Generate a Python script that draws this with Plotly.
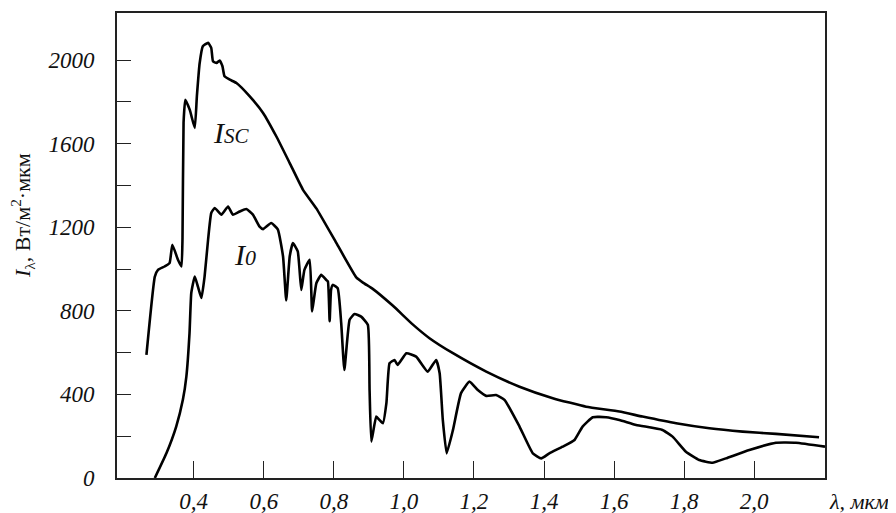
import plotly.graph_objects as go

# Extraterrestrial solar spectrum I_SC
isc_x = [0.265, 0.289, 0.298, 0.317, 0.331, 0.339, 0.355, 0.365, 0.368, 0.371, 0.376, 0.389,
         0.403, 0.409, 0.417, 0.426, 0.441, 0.450, 0.455, 0.465, 0.474, 0.482, 0.488, 0.503,
         0.522, 0.560, 0.598, 0.636, 0.674, 0.712, 0.750, 0.807, 0.864, 0.883, 0.911, 0.968,
         1.025, 1.073, 1.140, 1.235, 1.330, 1.425, 1.520, 1.615, 1.681, 1.777, 1.872, 1.967,
         2.062, 2.185]
isc_y = [589, 964, 996, 1012, 1028, 1116, 1044, 1012, 1150, 1700, 1810, 1760,
         1675, 1826, 1986, 2066, 2082, 2058, 1994, 1986, 1998, 1970, 1922, 1906,
         1890, 1826, 1747, 1634, 1507, 1379, 1290, 1125, 960, 935, 905, 825,
         735, 669, 597, 509, 437, 382, 341, 318, 294, 262, 238, 222,
         211, 195]

# Ground-level spectrum I_0
i0_x = [0.289, 0.322, 0.350, 0.369, 0.379, 0.388, 0.393, 0.403, 0.412, 0.422, 0.431, 0.441,
        0.450, 0.460, 0.479, 0.498, 0.512, 0.531, 0.550, 0.569, 0.588, 0.598, 0.621, 0.640,
        0.655, 0.664, 0.674, 0.683, 0.697, 0.707, 0.716, 0.731, 0.738, 0.750, 0.764, 0.778,
        0.783, 0.788, 0.792, 0.797, 0.811, 0.821, 0.830, 0.845, 0.859, 0.878, 0.897, 0.902,
        0.907, 0.921, 0.930, 0.940, 0.950, 0.959, 0.973, 0.982, 1.007, 1.035, 1.068, 1.092,
        1.102, 1.111, 1.122, 1.140, 1.163, 1.187, 1.211, 1.235, 1.263, 1.287, 1.330, 1.368,
        1.392, 1.415, 1.453, 1.487, 1.510, 1.539, 1.577, 1.615, 1.663, 1.738, 1.767, 1.805,
        1.843, 1.881, 1.919, 1.986, 2.062, 2.119, 2.202]
i0_y = [0, 118, 246, 374, 485, 693, 885, 964, 916, 861, 964, 1140,
        1268, 1292, 1260, 1299, 1260, 1275, 1287, 1260, 1203, 1191, 1220, 1190,
        1060, 850, 1060, 1124, 1084, 900, 996, 1044, 797, 932, 972, 948,
        940, 750, 900, 924, 908, 741, 517, 757, 785, 772, 733, 421,
        174, 294, 278, 262, 358, 549, 565, 541, 597, 581, 509, 565,
        501, 278, 118, 230, 406, 461, 421, 393, 397, 374, 246, 118,
        94, 118, 150, 182, 246, 291, 291, 278, 254, 230, 198, 126,
        86, 73, 94, 134, 169, 169, 150]

x_ticks = [0.4, 0.6, 0.8, 1.0, 1.2, 1.4, 1.6, 1.8, 2.0]
x_labels = ["0,4", "0,6", "0,8", "1,0", "1,2", "1,4", "1,6", "1,8", "2,0"]
y_ticks = [0, 400, 800, 1200, 1600, 2000]
y_labels = ["0", "400", "800", "1200", "1600", "2000"]
y_minor_ticks = [200, 600, 1000, 1400, 1800]

SERIF = "Liberation Serif"
INK = "#111111"

fig = go.Figure()
for xs, ys in [(isc_x, isc_y), (i0_x, i0_y)]:
    fig.add_trace(go.Scatter(x=xs, y=ys, mode="lines",
                             line=dict(color="black", width=2.6, shape="spline", smoothing=0.4),
                             showlegend=False, hoverinfo="skip"))

axis_common = dict(showgrid=False, zeroline=False, showline=True, mirror=True,
                   linecolor="#222222", linewidth=1.6, ticks="inside",
                   tickcolor="#222222", tickwidth=1.4)

fig.update_layout(
    width=896, height=513,
    margin=dict(l=109, r=79, t=5, b=43, autoexpand=False),
    paper_bgcolor="white", plot_bgcolor="white",
    xaxis=dict(range=[0.181, 2.202], tickvals=x_ticks, ticktext=x_labels, ticklen=17,
               tickfont=dict(family=SERIF, size=23, color=INK, style="italic"),
               ticklabelstandoff=2, **axis_common),
    yaxis=dict(range=[0, 2225], tickvals=y_ticks, ticktext=y_labels, ticklen=14,
               minor=dict(tickmode="array", tickvals=y_minor_ticks, ticks="inside", ticklen=14,
                          tickcolor="#222222", tickwidth=1.4, showgrid=False),
               tickfont=dict(family=SERIF, size=23, color=INK, style="italic"),
               ticklabelstandoff=16, **axis_common),
    annotations=[
        dict(text="<i>I</i><sub>λ</sub>, Вт/м<sup>2</sup>·мкм", textangle=-90,
             xref="paper", yref="paper", x=-0.1328, y=0.5656, showarrow=False,
             xanchor="center", yanchor="middle",
             font=dict(family=SERIF, size=22, color=INK)),
        dict(text="<i>λ, мкм</i>", xref="paper", yref="paper", x=1.003, y=-0.0495,
             xanchor="left", yanchor="middle", showarrow=False,
             font=dict(family=SERIF, size=22, color=INK)),
        dict(text="<i>I<span style='font-size:21px'>SC</span></i>", x=0.509, y=1652,
             xref="x", yref="y", showarrow=False, xanchor="center", yanchor="middle",
             font=dict(family=SERIF, size=30, color=INK)),
        dict(text="<i>I<span style='font-size:22px'>0</span></i>", x=0.545, y=1068,
             xref="x", yref="y", showarrow=False, xanchor="center", yanchor="middle",
             font=dict(family=SERIF, size=30, color=INK)),
    ],
)

fig.write_html("out.html")
